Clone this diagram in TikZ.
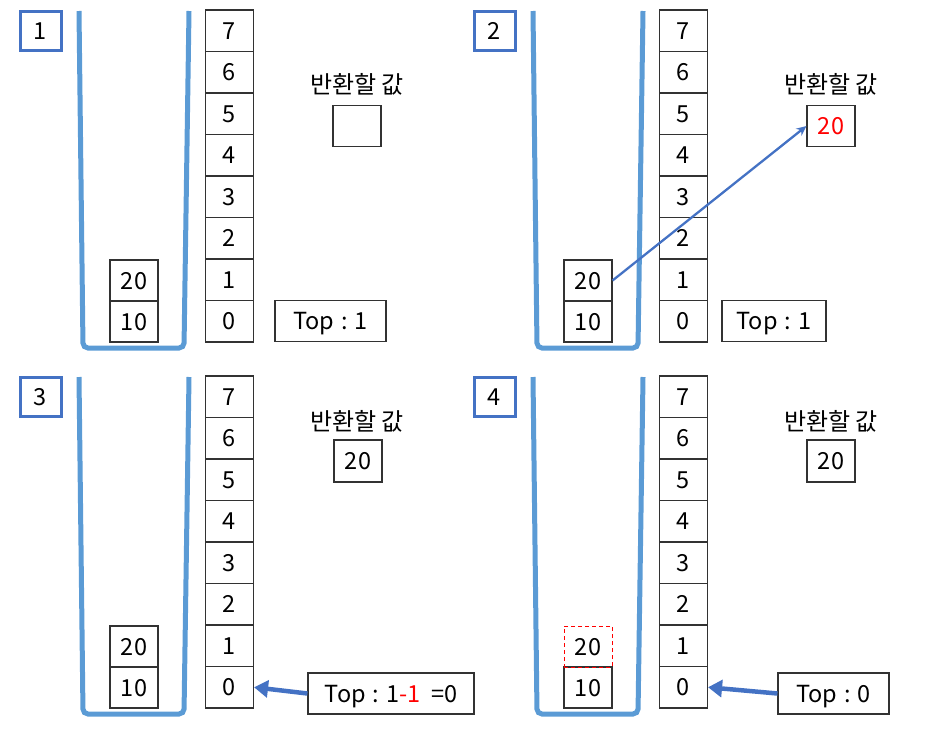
\documentclass[tikz,border=0pt]{standalone}
\usepackage{fontspec}
\setmainfont{Noto Sans CJK KR}
\usetikzlibrary{arrows.meta}
\definecolor{cupblue}{RGB}{91,155,213}
\definecolor{arrblue}{RGB}{68,114,196}
\definecolor{boxline}{RGB}{50,50,50}
\tikzset{
  x=1pt, y=-1pt,
  txt/.style={font=\fontsize{23.5}{27}\selectfont, text height=17pt, text depth=0pt},
  cell/.style={txt, draw=boxline, line width=1.1pt, minimum width=48pt, minimum height=41.5pt, inner sep=0pt},
  item/.style={cell, minimum height=41pt},
  numbox/.style={txt, draw=arrblue, line width=3pt, minimum width=41pt, minimum height=39pt, inner sep=0pt},
  cup/.style={draw=cupblue, line width=5pt, rounded corners=5pt},
  lbl/.style={font=\fontsize{24}{28}\selectfont, inner sep=0pt},
  topbox/.style={txt, draw=boxline, line width=1.1pt, minimum height=41pt, inner sep=0pt},
  thinarrow/.style={draw=arrblue, line width=2.3pt, -{Stealth[length=10pt,width=9pt]}},
  thickarrow/.style={draw=arrblue, line width=4.5pt, -{Triangle[length=14pt,width=17pt]}}
}
\newcommand\stackpanel[4]{%
\begin{scope}[shift={(#2,#3)}]
  \node[numbox] (#1n) at (40.5,30.5) {#4};
  \draw[cup] (79,11) -- (83,348) -- (184,348) -- (189,11);
  \foreach \k in {0,...,7}
    \node[cell] (#1i\k) at (229.5,{342-41.5*(\k+0.5)}) {\k};
  \node[item] (#1a) at (134,321.5) {10};
\end{scope}}
\newcommand\tpcolon{\hspace{0.3em}:\hspace{0.3em}}
\begin{document}
\begin{tikzpicture}
\useasboundingbox (0,0) rectangle (928,731);
% panel 1
\stackpanel{p1}{0}{0}{1}
\node[item] (p1b) at (134,280.5) {20};
\node[lbl] (p1l) at (357,84) {반환할 값};
\node[cell, minimum height=41pt] (p1r) at (357,126) {};
\node[topbox, minimum width=111pt] (p1t) at (330.5,321) {Top\tpcolon 1};
% panel 2
\stackpanel{p2}{454}{0}{2}
\node[item] (p2b) at (588,280.5) {20};
\node[lbl] (p2l) at (831,84) {반환할 값};
\node[cell, minimum height=41pt] (p2r) at (831,126) {\textcolor{red}{20}};
\node[topbox, minimum width=104pt] (p2t) at (774,321) {Top\tpcolon 1};
\draw[thinarrow] (p2b.east) -- (p2r.west);
% panel 3
\stackpanel{p3}{0}{366}{3}
\node[item] (p3b) at (134,646.5) {20};
\node[lbl] (p3l) at (357,421) {반환할 값};
\node[cell, minimum height=42pt] (p3r) at (358,461) {20};
\node[topbox, minimum width=166pt] (p3t) at (391,693.5) {Top\tpcolon 1\textcolor{red}{-1}\hspace{0.45em}=0};
\draw[thickarrow] (p3t.west) -- (p3i0.east);
% panel 4
\stackpanel{p4}{454}{366}{4}
\node[item, draw=red, dash pattern=on 4pt off 3pt, line width=1pt] (p4b) at (588,646.5) {20};
\node[lbl] (p4l) at (831,421) {반환할 값};
\node[cell, minimum height=42pt] (p4r) at (831,461) {20};
\node[topbox, minimum width=111pt] (p4t) at (833.5,693.5) {Top\tpcolon 0};
\draw[thickarrow] (p4t.west) -- (p4i0.east);
\end{tikzpicture}
\end{document}
